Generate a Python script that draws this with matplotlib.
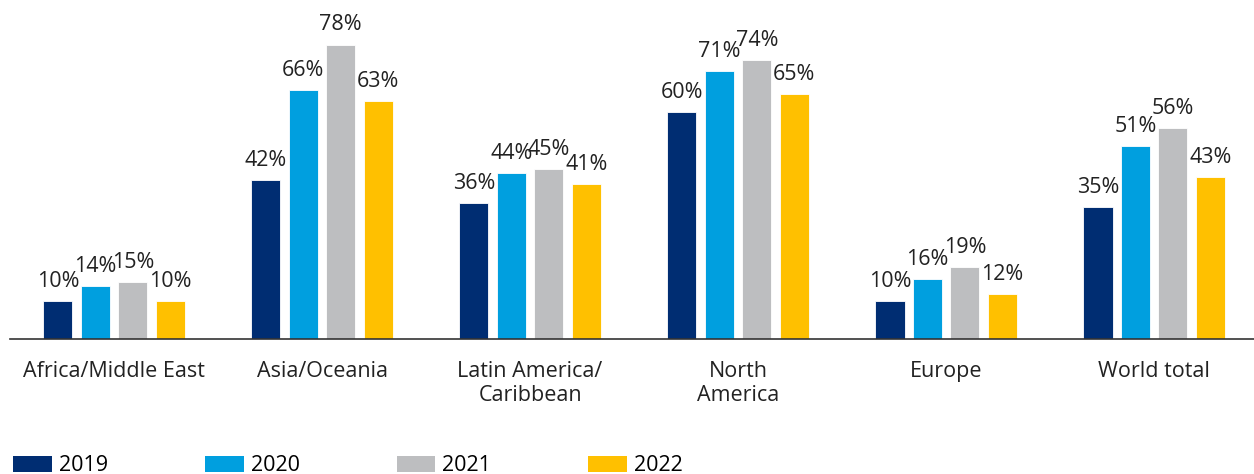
import numpy as np
import matplotlib.pyplot as plt
from matplotlib.patches import Patch

plt.rcParams['font.family'] = ['Open Sans', 'DejaVu Sans']

regions = ['Africa/Middle East', 'Asia/Oceania', 'Latin America/\nCaribbean',
           'North\nAmerica', 'Europe', 'World total']
years = ['2019', '2020', '2021', '2022']
v2019 = [10, 42, 36, 60, 10, 35]
v2020 = [14, 66, 44, 71, 16, 51]
v2021 = [15, 78, 45, 74, 19, 56]
v2022 = [10, 63, 41, 65, 12, 43]
colors = ['#002d72', '#009fdf', '#bdbec0', '#ffc000']

series = [v2019, v2020, v2021, v2022]
fs = 15.5

fig = plt.figure(figsize=(12.54, 4.74), dpi=100)
ax = fig.add_axes([10 / 1254, 135 / 474, 1244 / 1254, 302 / 474])

x = np.arange(len(regions))
step = 0.18
width = 0.14
for i, (vals, c) in enumerate(zip(series, colors)):
    pos = x + (i - 1.5) * step
    bars = ax.bar(pos, vals, width, color=c, edgecolor='white', linewidth=0.6)
    for b, v in zip(bars, vals):
        ax.text(b.get_x() + b.get_width() / 2, v + 2.4, f'{v}%',
                ha='center', va='bottom', fontsize=fs, color='#222222',
                clip_on=False)

ax.set_xlim(-0.5, 5.48)
ax.set_ylim(0, 80)
ax.set_xticks(x)
ax.set_xticklabels(regions, fontsize=fs, color='#222222', linespacing=1.2)
ax.tick_params(axis='x', length=0, pad=16)
ax.set_yticks([])
for s in ['top', 'right', 'left']:
    ax.spines[s].set_visible(False)
ax.spines['bottom'].set_color('#333333')
ax.spines['bottom'].set_linewidth(1.2)

handles = [Patch(facecolor=c, label=y) for c, y in zip(colors, years)]
fig.legend(handles=handles, loc='lower left', bbox_to_anchor=(0.0, -0.032),
           ncol=4, frameon=False, fontsize=fs, handlelength=1.8,
           handleheight=0.75, handletextpad=0.33, columnspacing=4.5,
           borderaxespad=0.2)

fig.savefig('out.png', dpi=100)
